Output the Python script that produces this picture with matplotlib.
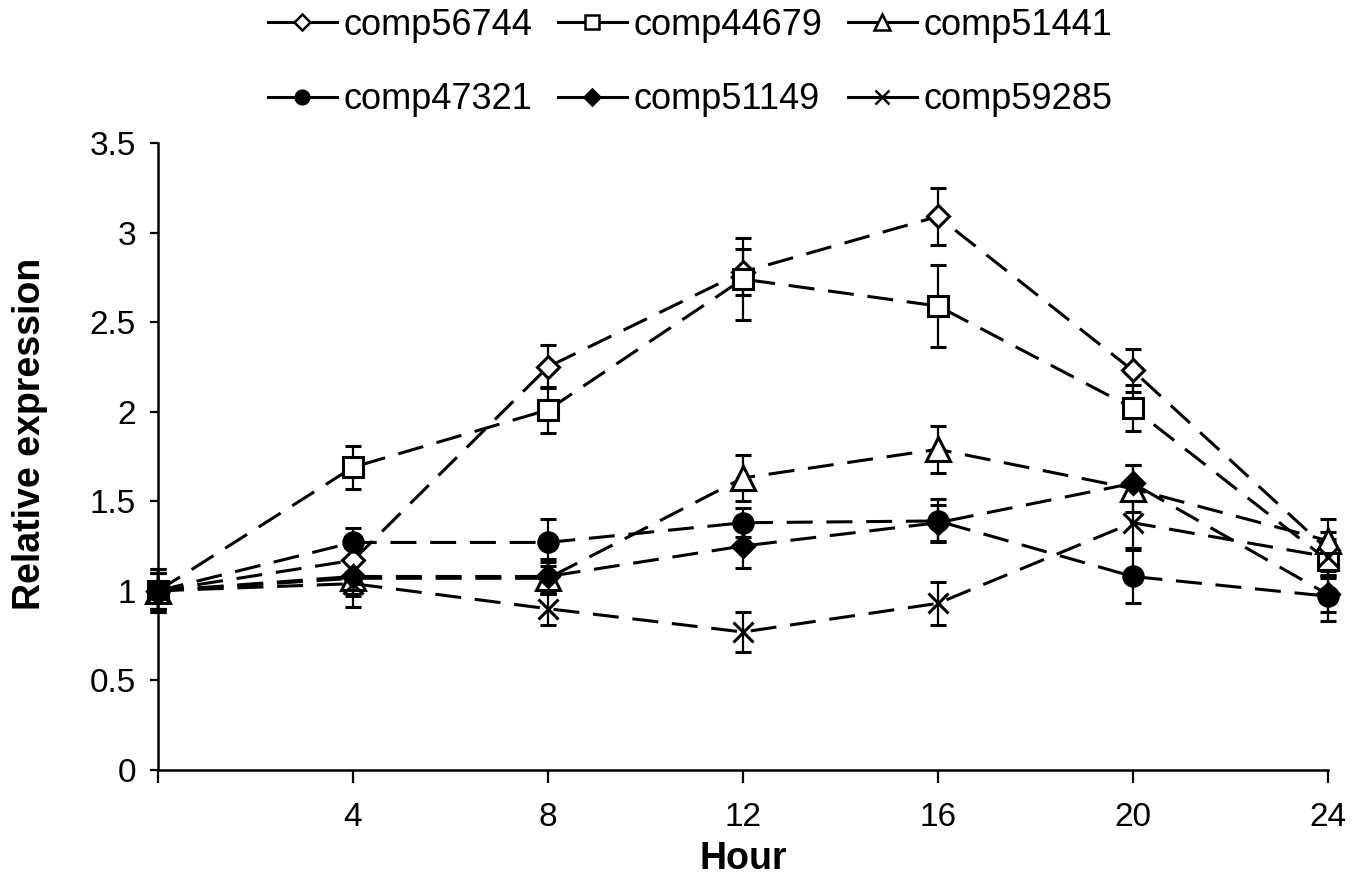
import numpy as np
import matplotlib.pyplot as plt
from matplotlib.lines import Line2D

plt.rcParams['font.family'] = ['Liberation Sans', 'DejaVu Sans']

hours = [0, 4, 8, 12, 16, 20, 24]

comp56744 = [1.0, 1.17, 2.25, 2.78, 3.09, 2.23, 1.23]
comp56744_err = [0.10, 0.08, 0.12, 0.13, 0.16, 0.12, 0.10]
comp44679 = [1.0, 1.69, 2.01, 2.74, 2.59, 2.02, 1.17]
comp44679_err = [0.10, 0.12, 0.13, 0.23, 0.23, 0.13, 0.10]
comp51441 = [1.0, 1.07, 1.07, 1.63, 1.79, 1.57, 1.28]
comp51441_err = [0.10, 0.10, 0.09, 0.13, 0.13, 0.13, 0.12]
comp47321 = [1.0, 1.27, 1.27, 1.38, 1.39, 1.08, 0.97]
comp47321_err = [0.12, 0.08, 0.13, 0.08, 0.12, 0.15, 0.14]
comp51149 = [1.0, 1.08, 1.08, 1.25, 1.38, 1.60, 0.98]
comp51149_err = [0.10, 0.10, 0.10, 0.12, 0.10, 0.10, 0.10]
comp59285 = [1.0, 1.04, 0.90, 0.77, 0.93, 1.38, 1.19]
comp59285_err = [0.12, 0.13, 0.09, 0.11, 0.12, 0.14, 0.10]

genes = ['comp56744', 'comp44679', 'comp51441', 'comp47321', 'comp51149', 'comp59285']
means = [comp56744, comp44679, comp51441, comp47321, comp51149, comp59285]
errs = [comp56744_err, comp44679_err, comp51441_err, comp47321_err, comp51149_err, comp59285_err]

# marker, face colour, size
styles = [('D', 'white', 11), ('s', 'white', 14), ('^', 'white', 17),
          ('o', 'black', 14), ('D', 'black', 11), ('x', 'none', 15)]

fig = plt.figure(figsize=(13.59, 8.86), dpi=100)
ax = fig.add_axes([0.1163, 0.131, 0.8607, 0.7076])

handles = []
for name, y, e, (m, fc, ms) in zip(genes, means, errs, styles):
    ax.errorbar(hours, y, yerr=e, color='black', linestyle=(0, (8.5, 4.5)), linewidth=2.2,
                marker=m, markersize=ms, markerfacecolor=fc, markeredgecolor='black',
                markeredgewidth=2.2, ecolor='black', elinewidth=1.6, capsize=6, capthick=1.6,
                clip_on=False, zorder=3)
    handles.append(Line2D([], [], color='black', linewidth=2.2, marker=m,
                          markersize=ms * 0.7, markerfacecolor=fc,
                          markeredgecolor='black', markeredgewidth=1.8, label=name))

ax.set_xlim(0, 24)
ax.set_ylim(0, 3.5)
ax.set_xticks([0, 4, 8, 12, 16, 20, 24])
ax.set_xticklabels(['', '4', '8', '12', '16', '20', '24'])
ax.set_yticks(np.arange(0, 3.51, 0.5))
ax.set_yticklabels(['0', '0.5', '1', '1.5', '2', '2.5', '3', '3.5'])
ax.tick_params(axis='both', labelsize=24, width=1.6, direction='out')
ax.tick_params(axis='x', length=9, pad=14)
ax.tick_params(axis='y', length=6, pad=10)
for s in ['top', 'right']:
    ax.spines[s].set_visible(False)
for s in ['left', 'bottom']:
    ax.spines[s].set_linewidth(1.8)

ax.set_xlabel('Hour', fontsize=27, fontweight='bold', labelpad=6)
ax.set_ylabel('Relative expression', fontsize=27, fontweight='bold')
ax.yaxis.set_label_coords(-0.094, 0.536)

# legend reads row-wise: top row first three genes, bottom row last three
order = [0, 3, 1, 4, 2, 5]
fig.legend([handles[i] for i in order], [genes[i] for i in order],
           loc='upper center', bbox_to_anchor=(0.508, 1.028), ncol=3, frameon=False,
           fontsize=26, handlelength=1.9, handletextpad=0.2, columnspacing=0.7,
           labelspacing=1.1)

fig.savefig('out.png', dpi=100)
